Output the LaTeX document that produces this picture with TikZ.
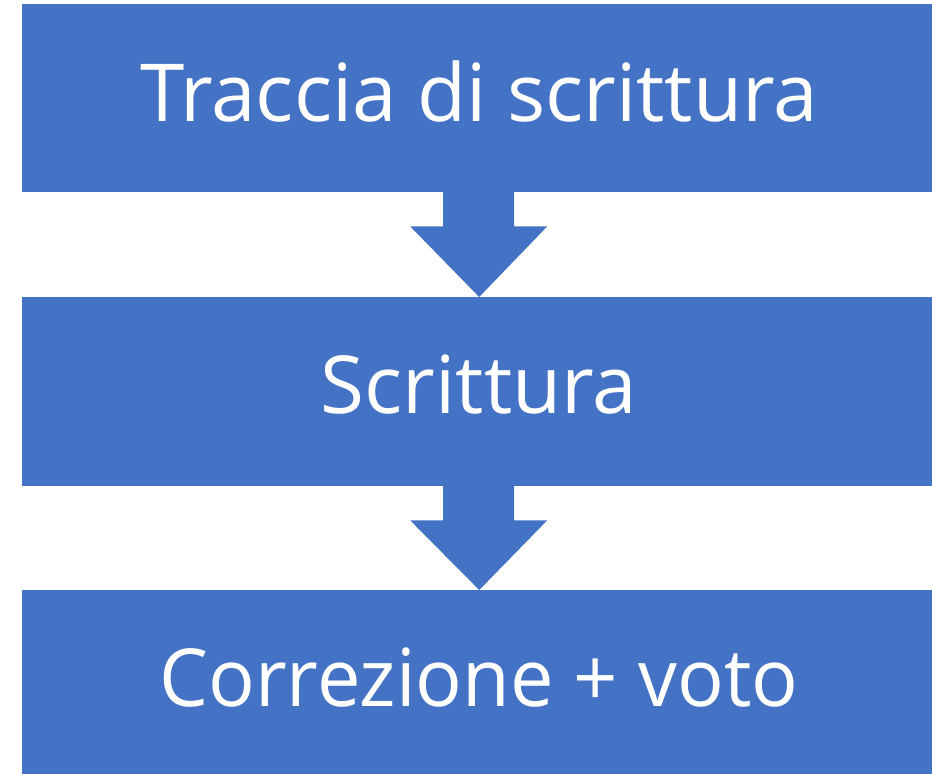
\documentclass[tikz,border=0pt]{standalone}
\usepackage{fontspec}
\setmainfont{Open Sans}
\usetikzlibrary{calc}
\definecolor{boxblue}{HTML}{4472C4}
\tikzset{
  stepbox/.style={fill=boxblue, draw=none, rectangle, inner sep=0pt, minimum width=910pt},
  steplabel/.style={text=white, anchor=base, inner sep=0pt, font=\fontsize{80}{96}\selectfont},
  blockarrow/.style={fill=boxblue, draw=none}
}
\begin{document}
\begin{tikzpicture}[x=1pt,y=-1pt]
\useasboundingbox (0,0) rectangle (932,774);
\node[stepbox, minimum height=188pt, anchor=north west] (b1) at (22,4) {};
\node[stepbox, minimum height=189pt, anchor=north west] (b2) at (22,297) {};
\node[stepbox, minimum height=184pt, anchor=north west] (b3) at (22,590) {};
\node[steplabel] (t1) at (479,121) {Traccia di scrittura};
\node[steplabel] (t2) at (479,413) {Scrittura};
\node[steplabel, xscale=0.97] (t3) at (479,706) {Correzione + voto};
\foreach \a/\b in {b1/b2, b2/b3}{
  \fill[blockarrow] ($(\a.south)+(-34,-1)$) -- ($(\a.south)+(37,-1)$) -- ($(\a.south)+(37,34)$)
    -- ($(\a.south)+(70,34)$) -- ($(\b.north)+(2,0)$) -- ($(\a.south)+(-67,34)$)
    -- ($(\a.south)+(-34,34)$) -- cycle;
}
\end{tikzpicture}
\end{document}
